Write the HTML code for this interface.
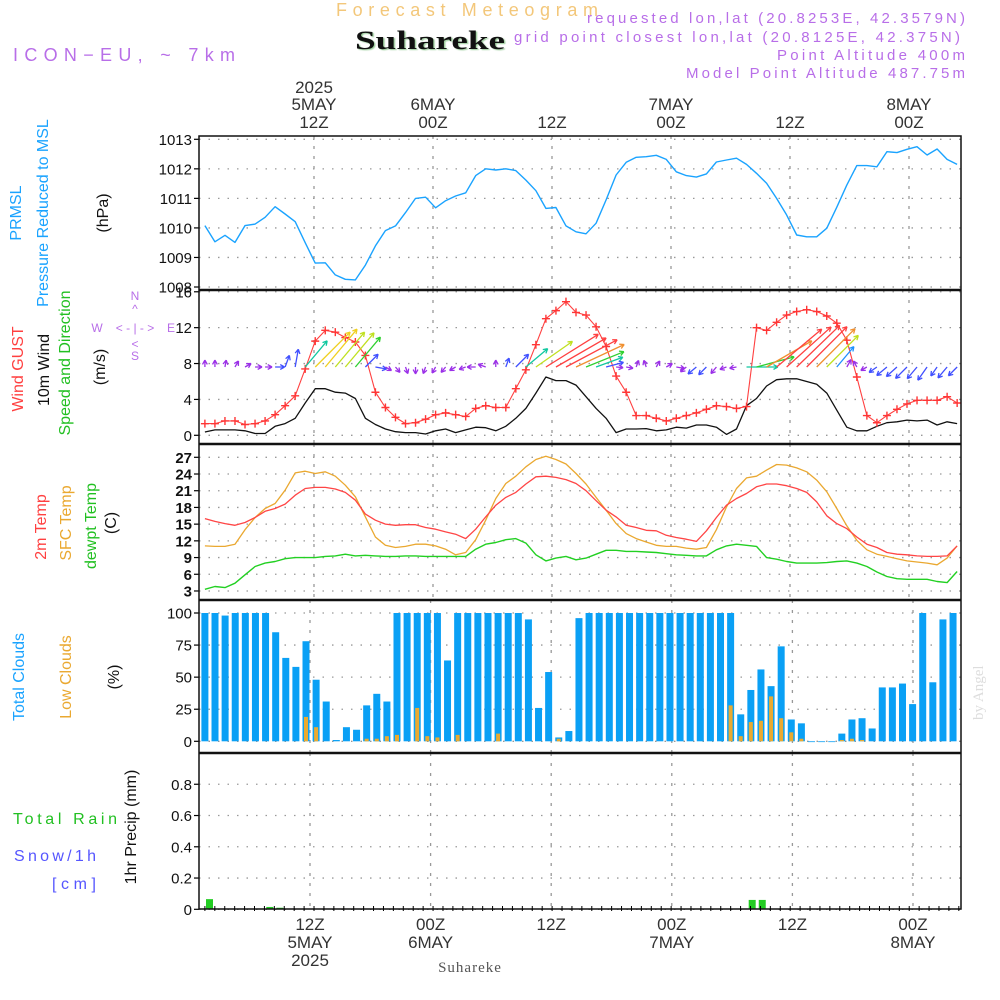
<!DOCTYPE html>
<html><head><meta charset="utf-8"><style>
html,body{margin:0;padding:0;background:#fff;}
svg{display:block;font-family:"Liberation Sans",sans-serif;}
</style></head><body>
<svg id="chart" width="1000" height="1000" viewBox="0 0 1000 1000" xmlns="http://www.w3.org/2000/svg">
<g id="header">
<text x="336" y="16" font-size="18" fill="#f3c77a" textLength="262" lengthAdjust="spacing">Forecast Meteogram</text>
<text x="355" y="49" font-size="26" font-weight="bold" font-family="Liberation Serif, serif" fill="#111" textLength="150" lengthAdjust="spacingAndGlyphs" style="text-shadow:1px 1px 1px #9c9">Suhareke</text>
<text x="13" y="61" font-size="18" fill="#b86ee8" textLength="222" lengthAdjust="spacing">ICON−EU, ~ 7km</text>
<text x="587" y="23" font-size="15" fill="#b86ee8" textLength="378" lengthAdjust="spacing">requested lon,lat (20.8253E, 42.3579N)</text>
<text x="514" y="42" font-size="15" fill="#b86ee8" textLength="446" lengthAdjust="spacing">grid point closest lon,lat (20.8125E, 42.375N)</text>
<text x="777" y="60" font-size="15" fill="#b86ee8" textLength="188" lengthAdjust="spacing">Point Altitude 400m</text>
<text x="686" y="78" font-size="15" fill="#b86ee8" textLength="279" lengthAdjust="spacing">Model Point Altitude 487.75m</text>
</g>
<g id="labels" font-size="16"></g>
<g id="grid"></g>
<g id="marks"></g>
<g id="frames"></g>
</svg>
<script>
const NS="http://www.w3.org/2000/svg";
// ---- data ----
const pressure=[1010.08,1009.53,1009.75,1009.51,1010.08,1010.13,1010.36,1010.72,1010.47,1010.21,1009.5,1008.81,1008.82,1008.41,1008.26,1008.24,1008.74,1009.39,1009.91,1010.07,1010.52,1011.0,1011.04,1010.68,1010.92,1011.08,1011.19,1011.77,1012.0,1011.96,1012.0,1011.94,1011.62,1011.26,1010.66,1010.69,1010.07,1009.87,1009.8,1010.16,1010.95,1011.79,1012.22,1012.39,1012.41,1012.46,1012.32,1011.9,1011.77,1011.72,1011.83,1012.23,1012.3,1012.36,1012.15,1011.85,1011.51,1011.0,1010.44,1009.76,1009.7,1009.7,1009.99,1010.7,1011.45,1012.11,1012.11,1012.07,1012.58,1012.55,1012.66,1012.75,1012.47,1012.67,1012.32,1012.15];
const gust=[1.3,1.3,1.6,1.6,1.2,1.3,1.6,2.3,3.3,4.4,7.4,10.5,11.7,11.5,10.9,10.4,8.9,4.8,3.1,2.0,1.3,1.4,1.8,2.3,2.5,2.3,2.1,3.0,3.3,3.1,3.1,5.2,7.3,10.1,13.0,13.9,14.9,13.7,13.4,12.1,9.9,6.6,4.8,2.2,2.2,1.9,1.6,1.9,2.2,2.5,2.9,3.3,3.2,3.0,3.2,12.0,11.7,12.6,13.4,13.8,14.0,13.8,13.3,12.5,10.6,6.5,2.2,1.4,2.2,2.9,3.5,3.9,3.9,3.9,4.3,3.6];
const wind10m=[0.37,0.6,0.6,0.6,0.5,0.2,0.2,1.0,1.3,1.9,3.6,5.2,5.2,4.8,4.7,4.1,1.9,1.2,0.7,0.4,0.3,0.3,0.15,0.5,0.7,0.3,0.6,0.9,0.85,0.5,1.0,1.9,3.0,4.7,6.5,6.1,6.1,5.6,4.3,3.0,1.9,0.3,0.7,0.7,0.75,0.5,0.6,0.9,0.8,1.15,1.15,0.9,0.1,0.7,3.3,4.1,5.5,6.2,6.3,6.3,6.0,5.7,4.7,2.8,0.9,0.5,0.5,1.0,1.4,1.5,1.7,1.6,1.7,1.15,1.5,1.3];
const windDir=[0,0,10,30,60,90,90,90,20,10,40,45,40,40,40,40,45,100,120,140,160,180,200,210,220,240,250,270,290,0,20,45,50,55,58,60,62,65,68,70,75,95,100,20,340,30,60,100,230,230,225,220,250,260,90,75,60,50,48,46,45,45,45,40,30,330,240,235,230,228,225,220,215,215,220,225];
const temp2m=[16.0,15.5,15.1,14.8,15.3,16.2,17.3,17.8,18.6,20.2,21.4,21.6,21.6,21.3,20.7,19.3,16.8,15.7,15.0,14.8,14.9,14.9,14.4,14.1,13.6,13.2,12.4,14.1,16.3,18.4,19.8,20.7,22.2,23.5,23.6,23.4,23.0,22.3,21.0,19.2,17.5,16.3,14.8,14.4,13.9,13.8,13.0,12.6,12.3,11.9,13.8,16.2,18.4,19.6,20.5,21.7,22.2,22.2,21.9,21.4,20.7,19.0,16.5,15.1,14.2,12.7,11.4,10.8,9.9,9.6,9.5,9.3,9.2,9.2,9.3,11.1];
const tempSfc=[11.1,11.0,11.0,11.4,14.0,16.2,17.8,18.7,21.1,24.2,24.5,24.1,24.4,23.6,22.0,19.9,16.3,12.7,11.2,10.8,11.0,11.4,11.4,11.1,10.5,9.5,9.9,12.2,15.7,19.6,22.3,23.6,25.3,26.6,27.2,26.6,25.8,24.1,22.2,19.8,17.5,15.1,13.3,12.4,11.8,11.2,11.0,11.0,10.7,10.5,10.8,14.0,18.1,21.4,23.3,23.6,24.7,25.7,25.6,25.1,24.4,22.9,20.8,17.8,14.7,12.1,10.4,9.6,9.2,8.8,8.4,8.2,8.0,7.7,8.9,11.1];
const dewpt=[3.3,3.8,3.6,4.4,5.9,7.4,8.0,8.3,8.8,9.0,9.0,9.0,9.2,9.3,9.6,9.3,9.4,9.3,9.2,9.2,9.3,9.3,9.2,9.2,9.2,9.2,9.2,10.5,11.4,11.7,12.2,12.4,11.6,9.5,8.4,8.9,9.2,8.6,8.9,9.6,10.3,10.3,10.1,10.1,10.0,9.9,9.7,9.5,9.4,9.3,9.3,10.4,11.1,11.4,11.2,11.0,9.0,8.7,8.3,8.0,8.0,8.0,8.1,8.3,8.4,8.0,7.4,6.4,5.6,5.2,5.1,5.1,5.1,4.7,4.5,6.5];
const totalClouds=[100,100,98,100,100,100,100,85,65,58,78,48,31,1,11,9,28,37,31,100,100,100,100,100,63,100,100,100,100,100,100,100,95,26,54,3,8,96,100,100,100,100,100,100,100,100,100,100,100,100,100,100,100,21,40,56,43,74,17,14,0,0,0,6,17,18,10,42,42,45,29,100,46,95,100,100];
const lowClouds=[0,0,0,0,0,0,0,0,0,0,19,11,0,0,0,0,2,2,4,5,0,26,4,3,0,5,0,0,0,6,0,0,0,0,0,2,0,0,0,0,0,0,0,0,0,0,0,0,0,0,0,0,28,4,15,16,35,18,7,2,0,0,0,1,2,1,0,0,0,0,0,0,0,0,0,0];
const precip=[0.065,0,0,0,0,0,0.015,0.01,0,0,0,0,0,0,0,0,0,0,0,0,0,0,0,0,0,0,0,0,0,0,0,0,0,0,0,0,0,0,0,0,0,0,0,0,0,0,0,0,0,0,0,0,0,0,0.06,0.06];
const pTicks=[1008,1009,1010,1011,1012,1013];
const wTicks=[0,4,8,12,16];
const tTicks=[3,6,9,12,15,18,21,24,27];
const cTicks=[0,25,50,75,100];
const prTicks=[0,0.2,0.4,0.6,0.8];
const topHours=["12Z","00Z","12Z","00Z","12Z","00Z"];
const topDays=["5MAY","6MAY","","7MAY","","8MAY"];
const botHours=["12Z","00Z","12Z","00Z","12Z","00Z"];
const botDays=["5MAY","6MAY","","7MAY","","8MAY"];

// ---- scales ----
const X0=199,X1=961;
const xL=i=>204.9+10.03*i;
const xB=i=>204.9+10.11*i;
const xP=i=>206+10.05*i;
const gridTop=k=>314+119*k;
const gridBot=k=>310+120.6*k;
const yP=v=>139.3+(1013-v)*29.54;
const yW=v=>435.3-v*8.97;
const yT=v=>457.3+(27-v)*5.57;
const yC=v=>741.3-v*1.283;
const yR=v=>909.3-v*156.3;

const G=document.getElementById('grid'),M=document.getElementById('marks'),F=document.getElementById('frames'),L=document.getElementById('labels');
function mk(tag,attrs,parent){const e=document.createElementNS(NS,tag);for(const k in attrs)e.setAttribute(k,attrs[k]);parent.appendChild(e);return e;}
function txt(s,attrs,parent){const e=mk('text',attrs,parent);e.textContent=s;return e;}

const panels=[
 {name:'pressure',top:136,bot:290,ticks:pTicks,y:yP,grid:gridTop,fmt:v=>v},
 {name:'wind',top:290,bot:444,ticks:wTicks,y:yW,grid:gridTop,fmt:v=>v},
 {name:'temperature',top:444,bot:600,ticks:tTicks,y:yT,grid:gridTop,fmt:v=>v,bold:true},
 {name:'clouds',top:600,bot:753,ticks:cTicks,y:yC,grid:gridBot,fmt:v=>v},
 {name:'precip',top:753,bot:909,ticks:prTicks,y:yR,grid:gridBot,fmt:v=>v===0?'0':v.toFixed(1)}
];
panels.forEach(p=>{
  p.ticks.forEach(v=>{
    const y=p.y(v);
    const gl=mk('line',{x1:X0,x2:X1,y1:y,y2:y,stroke:'#999','stroke-width':1.3,'stroke-dasharray':'1.5 8'},G);
    
    
    mk('line',{x1:X0-5,x2:X0,y1:y,y2:y,stroke:'#000','stroke-width':1.2},F);
    const t=txt(String(p.fmt(v)),{x:X0-7,y:y+5.5,'font-size':15,'text-anchor':'end',fill:'#111','font-weight':p.bold?'bold':'normal'},F);
    
    
  });
  for(let k=0;k<6;k++){
    const x=p.grid(k);
    const vl=mk('line',{x1:x,x2:x,y1:p.top,y2:p.bot,stroke:'#999','stroke-width':1.3,'stroke-dasharray':'3 7'},G);
    
    
  }
});
const fr=mk('rect',{x:X0,y:136,width:X1-X0,height:909-136,fill:'none',stroke:'#111','stroke-width':1.5},F);


[290,444,600,753].forEach(y=>{const s=mk('line',{x1:X0,x2:X1,y1:y,y2:y,stroke:'#111','stroke-width':2.5},F);

});
for(let i=0;i<=76;i++){mk('line',{x1:204.9+i*9.92,x2:204.9+i*9.92,y1:906,y2:911,stroke:'#000','stroke-width':1},F);}

function poly(arr,xf,yf,color,name,w){
  const pts=arr.map((v,i)=>xf(i).toFixed(1)+','+yf(v).toFixed(1)).join(' ');
  const e=mk('polyline',{points:pts,fill:'none',stroke:color,'stroke-width':w||1.3,'stroke-linejoin':'round'},M);
  
  
}
poly(pressure,xL,yP,'#1aa3ff','pressure-line',1.4);
poly(wind10m,xL,yW,'#111','wind-10m-line',1.3);
poly(gust,xL,yW,'#ff4040','wind-gust-line',1.1);
gust.forEach((v,i)=>{const x=xL(i),y=yW(v);
  const g=mk('path',{d:`M${x-4},${y}H${x+4}M${x},${y-4}V${y+4}`,stroke:'#ff3535','stroke-width':1.4},M);
  
  
});
function wcol(s){if(s<1)return '#9b30e8';if(s<2)return '#4050ff';if(s<3)return '#1e90ff';if(s<3.8)return '#10c8a0';if(s<4.5)return '#30d030';if(s<5)return '#c0e020';if(s<5.5)return '#f0d020';if(s<6)return '#f09030';return '#ff4040';}
wind10m.forEach((s,i)=>{
  const x0=xL(i),y0=367;const len=Math.max(7,s*9.5);const a=windDir[i]*Math.PI/180;
  const dx=Math.sin(a),dy=-Math.cos(a);const x1=x0+dx*len,y1=y0+dy*len;
  const h=5,ang=Math.atan2(dy,dx);
  const d=`M${x0},${y0}L${x1},${y1}M${x1},${y1}L${x1-h*Math.cos(ang-0.5)},${y1-h*Math.sin(ang-0.5)}M${x1},${y1}L${x1-h*Math.cos(ang+0.5)},${y1-h*Math.sin(ang+0.5)}`;
  const e=mk('path',{d:d,stroke:wcol(s),'stroke-width':1.3,fill:'none'},M);
  
  
});
poly(tempSfc,xL,yT,'#eaa830','sfc-temp-line',1.3);
poly(temp2m,xL,yT,'#ff4545','temp-2m-line',1.3);
poly(dewpt,xL,yT,'#22d022','dewpoint-line',1.4);
totalClouds.forEach((v,i)=>{const x=xB(i);if(x>961)return;const y=yC(v);
  const b=mk('rect',{x:x-3.5,y:y,width:Math.min(7,961-(x-3.5)),height:Math.max(0.8,741.3-y),fill:'#0aa0f5'},M);
  
  });
lowClouds.forEach((v,i)=>{if(v<=0)return;const x=xB(i);const y=yC(v);
  const b=mk('rect',{x:x-2,y:y,width:4,height:741.3-y,fill:'#eaaa30'},M);
  
  });
precip.forEach((v,i)=>{if(v<=0)return;const y=yR(v);
  const b=mk('rect',{x:xP(i),y:y,width:7,height:909.3-y,fill:'#22cc22'},M);
  
  });
for(let k=0;k<6;k++){
  const x=gridTop(k);
  const t=txt(topHours[k],{x:x,y:128,'font-size':17,'text-anchor':'middle',fill:'#333'},L);
  
  
  if(topDays[k]){const d=txt(topDays[k],{x:x,y:110,'font-size':17,'text-anchor':'middle',fill:'#333'},L);
  
  }
  const xb=gridBot(k);
  const b=txt(botHours[k],{x:xb,y:930,'font-size':17,'text-anchor':'middle',fill:'#333'},L);
  
  
  if(botDays[k]){const d=txt(botDays[k],{x:xb,y:948,'font-size':17,'text-anchor':'middle',fill:'#333'},L);
  
  }
}
</script>
<svg style="position:absolute;left:0;top:0" width="1000" height="1000" viewBox="0 0 1000 1000" xmlns="http://www.w3.org/2000/svg" font-family="Liberation Sans, sans-serif">
<text x="314" y="93" font-size="17" text-anchor="middle" fill="#333">2025</text>
<text x="310" y="966" font-size="17" text-anchor="middle" fill="#333">2025</text>
<text x="470" y="972" font-size="15" text-anchor="middle" fill="#555" font-family="Liberation Serif, serif" letter-spacing="1">Suhareke</text>
<text transform="translate(983,720) rotate(-90)" font-size="15" fill="#ddd" font-family="Liberation Serif, serif">by Angel</text>
<g font-size="16" text-anchor="middle">
<text transform="translate(21,213) rotate(-90)" fill="#1aa3ff">PRMSL</text>
<text transform="translate(48,213) rotate(-90)" fill="#1aa3ff">Pressure Reduced to MSL</text>
<text transform="translate(108,213) rotate(-90)" fill="#111">(hPa)</text>
<text transform="translate(23,369) rotate(-90)" fill="#ff4040">Wind GUST</text>
<text transform="translate(49,370) rotate(-90)" fill="#111">10m Wind</text>
<text transform="translate(70,363) rotate(-90)" fill="#22c022">Speed and Direction</text>
<text transform="translate(105,367) rotate(-90)" fill="#111">(m/s)</text>
<text transform="translate(46,527) rotate(-90)" fill="#ff4040">2m Temp</text>
<text transform="translate(71,523) rotate(-90)" fill="#eaa830">SFC Temp</text>
<text transform="translate(96,526) rotate(-90)" fill="#22c022">dewpt Temp</text>
<text transform="translate(116,523) rotate(-90)" fill="#111">(C)</text>
<text transform="translate(24,677) rotate(-90)" fill="#1aa3ff">Total Clouds</text>
<text transform="translate(71,677) rotate(-90)" fill="#eaa830">Low Clouds</text>
<text transform="translate(119,677) rotate(-90)" fill="#111">(%)</text>
<text transform="translate(136,827) rotate(-90)" fill="#111">1hr Precip (mm)</text>
</g>
<text x="13" y="824" font-size="16" fill="#22c022" textLength="104" lengthAdjust="spacing">Total   Rain</text>
<text x="14" y="861" font-size="16" fill="#5555ff" textLength="82" lengthAdjust="spacing">Snow/1h</text>
<text x="52" y="889" font-size="16" fill="#5555ff" textLength="44" lengthAdjust="spacing">[cm]</text>
<g fill="#b86ee8" font-size="12" text-anchor="middle">
<text x="135" y="300">N</text><text x="135" y="313">^</text>
<text x="97" y="332">W</text><text x="135" y="332">&lt; - | - &gt;</text><text x="171" y="332">E</text>
<text x="135" y="348">&lt;</text><text x="135" y="360">S</text>
</g>
</svg>
</body></html>
